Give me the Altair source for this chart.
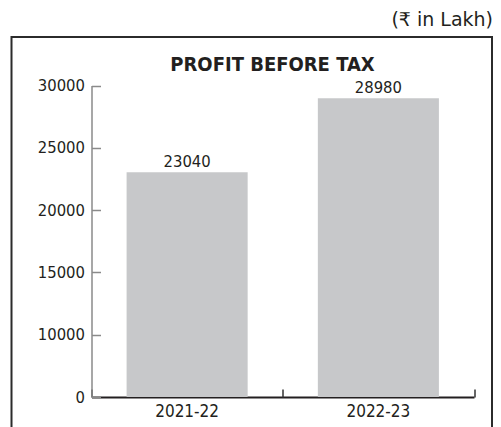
import altair as alt
import pandas as pd

# ---- data ----
years = ["2021-22", "2022-23"]
profit = [23040, 28980]
tick_values = [5000, 10000, 15000, 20000, 25000, 30000]   # broken axis: first tick shown as 0
tick_labels = ["0", "10000", "15000", "20000", "25000", "30000"]
axis_base = 5000

df = pd.DataFrame({"year": years, "profit": profit})

FONT = "DejaVu Sans Condensed, DejaVu Sans"
W, H = 480.5, 410
X_RANGE = [80, 462.5]
Y_RANGE = [360, 48.5]
AX_X = 80
AX_Y = 360

label_expr = "''"
for v, l in reversed(list(zip(tick_values, tick_labels))):
    label_expr = f"datum.value == {v} ? '{l}' : ({label_expr})"

xscale = alt.Scale(range=X_RANGE, paddingInner=0, paddingOuter=0)
yscale = alt.Scale(domain=[tick_values[0], tick_values[-1]], range=Y_RANGE, zero=False, nice=False)

bars = alt.Chart(df).mark_bar(color="#c7c8ca", width=alt.RelativeBandSize(0.633)).encode(
    x=alt.X("year:N", sort=years, scale=xscale,
            axis=alt.Axis(orient="bottom", offset=AX_Y - H, title=None, labelAngle=0,
                          ticks=False, domainColor="#231f20", domainWidth=2,
                          labelFont=FONT, labelFontSize=17, labelColor="#231f20",
                          labelPadding=6)),
    y=alt.Y("profit:Q", scale=yscale,
            axis=alt.Axis(orient="left", offset=-AX_X, values=tick_values, labelExpr=label_expr,
                          ticks=False, grid=False, title=None, domainColor="#8a8a8a",
                          domainWidth=1.5, labelFont=FONT, labelFontSize=16.5,
                          labelColor="#231f20", labelPadding=7)),
    y2=alt.datum(axis_base),
)

labels = alt.Chart(df).mark_text(baseline="alphabetic", dy=-5, font=FONT, fontSize=16.5,
                                 color="#231f20").encode(
    x=alt.X("year:N", sort=years, scale=xscale,
            axis=alt.Axis(orient="top", offset=-AX_Y, labels=False, domain=False, ticks=True,
                          tickBand="extent", tickSize=8, tickColor="#333333", tickWidth=1.5,
                          title=None)),
    y=alt.Y("profit:Q", scale=yscale,
            axis=alt.Axis(orient="right", offset=AX_X - W, labels=False, domain=False,
                          ticks=True, tickSize=9, tickColor="#8a8a8a", tickWidth=1.5,
                          values=tick_values, grid=False, title=None)),
    text=alt.Text("profit:Q", format="d"),
)

inner = alt.layer(bars, labels).resolve_axis(x="independent", y="independent").properties(
    width=W, height=H,
    title=alt.TitleParams("PROFIT BEFORE TAX", anchor="middle", baseline="alphabetic",
                          offset=-54, dx=20.75, font=FONT, fontSize=20, fontWeight="bold",
                          color="#231f20"),
)

chart = alt.vconcat(inner).properties(
    title=alt.TitleParams("(₹ in Lakh)", anchor="end", baseline="alphabetic", offset=-8.5,
                          dx=0, font="DejaVu Sans", fontSize=19, fontWeight="normal",
                          color="#231f20"),
    padding={"left": 2.5, "top": 2, "right": 0, "bottom": 0},
).configure_view(stroke="#2b2b2b", strokeWidth=2)

chart.save("out.html", embed_options={"renderer": "svg", "actions": False})
